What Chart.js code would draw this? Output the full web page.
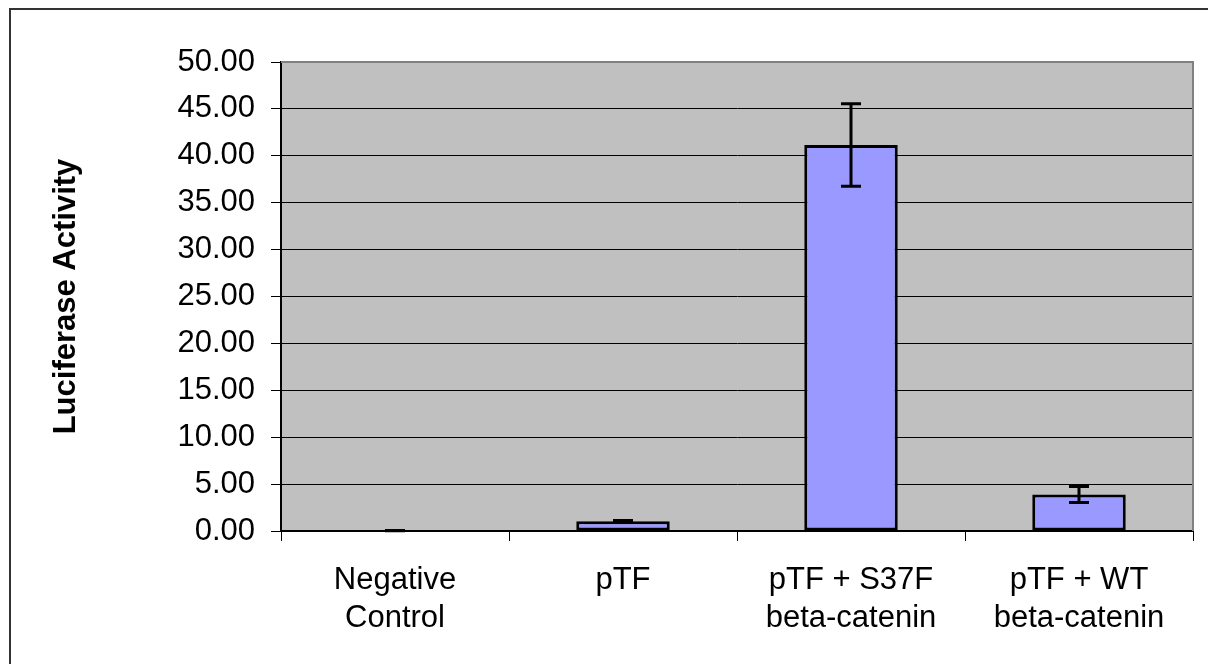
<!DOCTYPE html>
<html>
<head>
<meta charset="utf-8">
<title>Luciferase Activity</title>
<script src="https://cdn.jsdelivr.net/npm/chart.js@4/dist/chart.umd.min.js"></script>
<style>
  html, body { margin: 0; padding: 0; background: #ffffff; }
  #wrap { width: 1208px; height: 664px; }
</style>
</head>
<body>
<div id="wrap"><canvas id="appBarChart" width="1208" height="664"></canvas></div>
<script>
/*******************************************************************
 *                        CHART DATA
 *******************************************************************/

const categories = [
  ["Negative", "Control"],
  ["pTF"],
  ["pTF + S37F", "beta-catenin"],
  ["pTF + WT", "beta-catenin"],
];
const meanValues = [0.04, 1.05, 41.15, 3.9];
const errorValues = [0.02, 0.08, 4.4, 0.85];

const yMin = 0;
const yMax = 50;
const yStep = 5;
const yAxisTitle = "Luciferase Activity";

/*******************************************************************
 *                        PLUGINS
 *******************************************************************/

// grey plot background plus the darker top / right frame
const plotBackground = {
  id: "plotBackground",
  beforeDraw(chart) {
    const { ctx, chartArea: a } = chart;
    ctx.save();
    ctx.fillStyle = "#c0c0c0";
    ctx.fillRect(a.left, a.top, a.right - a.left, a.bottom - a.top);
    ctx.restore();
  },
  beforeDatasetsDraw(chart) {
    const { ctx, chartArea: a } = chart;
    ctx.save();
    ctx.strokeStyle = "#808080";
    ctx.lineWidth = 2;
    ctx.beginPath();
    ctx.moveTo(a.left, a.top);
    ctx.lineTo(a.right, a.top);
    ctx.lineTo(a.right, a.bottom);
    ctx.stroke();
    ctx.restore();
  },
  afterDraw(chart) {
    const { ctx } = chart;
    ctx.save();
    ctx.strokeStyle = "#333333";
    ctx.lineWidth = 2;
    ctx.strokeRect(10, 9, chart.width + 10, chart.height + 10);
    ctx.restore();
  },
};

// error bars, placed with the y scale
const errorBars = {
  id: "errorBars",
  afterDatasetsDraw(chart) {
    const { ctx } = chart;
    const yScale = chart.scales.y;
    const meta = chart.getDatasetMeta(0);
    ctx.save();
    ctx.strokeStyle = "#000000";
    ctx.lineWidth = 3;
    for (let i = 0; i < meanValues.length; i++) {
      const x = meta.data[i].x;
      const yHi = yScale.getPixelForValue(meanValues[i] + errorValues[i]);
      const yLo = yScale.getPixelForValue(meanValues[i] - errorValues[i]);
      const cap = 10;
      ctx.beginPath();
      ctx.moveTo(x, yHi);
      ctx.lineTo(x, yLo);
      ctx.moveTo(x - cap, yHi);
      ctx.lineTo(x + cap, yHi);
      ctx.moveTo(x - cap, yLo);
      ctx.lineTo(x + cap, yLo);
      ctx.stroke();
    }
    ctx.restore();
  },
};

/*******************************************************************
 *                        RENDER
 *******************************************************************/

const tickFont = { family: "'Liberation Sans', Arial, sans-serif", size: 31, lineHeight: 1.24 };

const chart = new Chart(document.getElementById("appBarChart"), {
  type: "bar",
  data: {
    labels: categories,
    datasets: [{
      data: meanValues,
      backgroundColor: "#9999ff",
      borderColor: "#000000",
      borderWidth: 3,
      borderSkipped: false,
      barPercentage: 0.41,
      categoryPercentage: 1.0,
    }],
  },
  options: {
    responsive: false,
    animation: false,
    layout: { padding: { left: 10, top: 62, right: 15, bottom: 0 } },
    plugins: {
      legend: { display: false },
      tooltip: { enabled: false },
    },
    scales: {
      x: {
        offset: true,
        grid: {
          offset: true,
          drawOnChartArea: false,
          drawTicks: true,
          tickLength: 10,
          tickColor: "#000000",
          tickWidth: 1,
        },
        border: { display: true, color: "#000000", width: 2 },
        ticks: {
          color: "#000000",
          font: tickFont,
          padding: 20,
          maxRotation: 0,
          autoSkip: false,
        },
        afterFit(scale) { scale.height = 664 - 531; },
      },
      y: {
        min: yMin,
        max: yMax,
        grid: {
          color: (c) => (c.tick && c.tick.value === yMax ? "#808080" : "#000000"),
          lineWidth: 1,
          tickLength: 10,
          tickColor: "#000000",
        },
        border: { display: true, color: "#000000", width: 2 },
        ticks: {
          stepSize: yStep,
          color: "#000000",
          font: tickFont,
          padding: 16,
          callback: (v) => Number(v).toFixed(2),
        },
        title: {
          display: true,
          text: yAxisTitle,
          color: "#000000",
          font: { family: "'Liberation Sans', Arial, sans-serif", size: 31, weight: "bold", lineHeight: 1.2 },
          padding: { top: 38, bottom: 0 },
        },
        afterFit(scale) { scale.width = 281 - 10; },
      },
    },
  },
  plugins: [plotBackground, errorBars],
});
</script>
</body>
</html>
